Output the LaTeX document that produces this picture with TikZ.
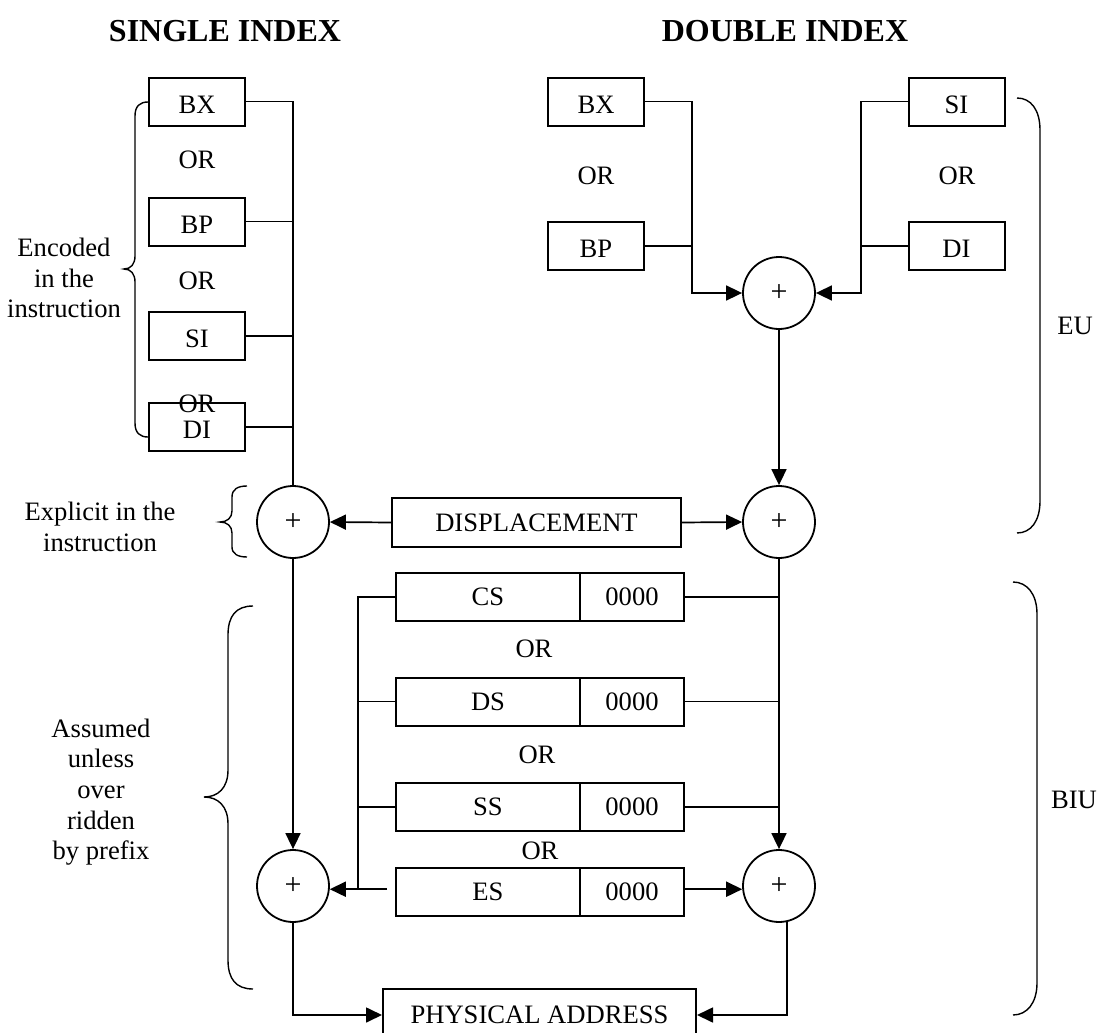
\documentclass[tikz,border=0pt]{standalone}
\usepackage{fontspec}
\setmainfont{Liberation Serif}
\usetikzlibrary{arrows.meta}
\begin{document}
\begin{tikzpicture}[x=0.5pt,y=-0.5pt,
  every node/.style={font=\fontsize{13.3}{15.5}\selectfont},
  wire/.style={line width=0.85pt},
  arr/.style={wire,-{Triangle[length=8pt,width=7.5pt]}},
  curly/.style={line width=0.7pt},
  boxed/.style={draw,line width=1pt,inner sep=0pt,text height=8.7pt,text depth=0pt},
  reg/.style={boxed,minimum width=48pt,minimum height=24pt,text height=11.8pt},
  segbox/.style={boxed,minimum width=92pt,minimum height=24pt},
  valbox/.style={boxed,minimum width=52pt,minimum height=24pt},
  dispbox/.style={boxed,minimum width=144.5pt,minimum height=24.5pt},
  pabox/.style={boxed,minimum width=156.5pt,minimum height=26pt},
  adder/.style={circle,draw,line width=0.9pt,minimum size=36pt,inner sep=0pt,
    font=\fontsize{15}{15}\selectfont},
  hdr/.style={anchor=base,font=\bfseries\fontsize{16}{19}\selectfont},
  txt/.style={anchor=base}]
\useasboundingbox (0,0) rectangle (1104,1033);

% headings
\node[hdr] (hsingle) at (225,41) {SINGLE INDEX};
\node[hdr] (hdouble) at (785,41) {DOUBLE INDEX};

% ---- single index registers
\node[reg] (bxA) at (197,101.5) {BX};
\node[reg] (bpA) at (197,221.5) {BP};
\node[reg] (siA) at (197,336) {SI};
\node[reg] (diA) at (197,427) {DI};
\node[txt] (orA1) at (197,168) {OR};
\node[txt] (orA2) at (197,289) {OR};
\node[txt] (orA3) at (197,412) {OR};

% ---- double index registers
\node[reg] (bxB) at (596,101.5) {BX};
\node[reg] (bpB) at (596,246) {BP};
\node[reg] (siB) at (956.5,101.5) {SI};
\node[reg] (diB) at (956.5,246) {DI};
\node[txt] (orB1) at (596,184) {OR};
\node[txt] (orB2) at (957,184) {OR};

% ---- adders
\node[adder] (add1) at (779,293) {+};
\node[adder] (add3) at (293,522) {+};
\node[adder] (add2) at (779,522) {+};
\node[adder] (add4) at (293,886) {+};
\node[adder] (add5) at (779,886) {+};

\node[dispbox] (disp) at (536.5,522.5) {DISPLACEMENT};

% ---- segment registers
\node[segbox] (cs) at (488,597) {CS};
\node[valbox] (csv) at (632,597) {0000};
\node[segbox] (ds) at (488,701.5) {DS};
\node[valbox] (dsv) at (632,701.5) {0000};
\node[segbox] (ss) at (488,807) {SS};
\node[valbox] (ssv) at (632,807) {0000};
\node[segbox] (es) at (488,892) {ES};
\node[valbox] (esv) at (632,892) {0000};
\node[txt] (orC1) at (534,657) {OR};
\node[txt] (orC2) at (537,763) {OR};
\node[txt] (orC3) at (540,859) {OR};

\node[pabox] (pa) at (539.5,1015) {PHYSICAL ADDRESS};

% ---- single index wiring
\draw[wire] (bxA.east) -- (bxA.east -| add3.north) -- (add3.north);
\draw[wire] (bpA.east) -- (bpA.east -| add3.north);
\draw[wire] (siA.east) -- (siA.east -| add3.north);
\draw[wire] (diA.east) -- (diA.east -| add3.north);

% ---- double index wiring
\coordinate (jl) at (692,293);
\coordinate (jr) at (861,293);
\draw[arr] (bxB.east) -| (jl) -- (add1.west);
\draw[wire] (bpB.east) -- (bpB.east -| jl);
\draw[arr] (siB.west) -| (jr) -- (add1.east);
\draw[wire] (diB.west) -- (diB.west -| jr);
\draw[arr] (add1.south) -- (add2.north);

% ---- displacement
\draw[arr] (disp.west) -- (add3.east);
\draw[arr] (disp.east) -- (add2.west);

% ---- segment wiring
\draw[arr] (add3.south) -- (add4.north);
\draw[arr] (add2.south) -- (add5.north);
\coordinate (lb) at (358,889);
\draw[wire] (cs.west) -| (lb);
\draw[wire] (ds.west) -- (ds.west -| lb);
\draw[wire] (ss.west) -- (ss.west -| lb);
\draw[arr] (es.west |- add4.-5) ++(-8,0) -- (add4.-5);
\draw[wire] (csv.east) -- (csv.east -| add2.south);
\draw[wire] (dsv.east) -- (dsv.east -| add2.south);
\draw[wire] (ssv.east) -- (ssv.east -| add2.south);
\draw[arr] (esv.east |- add5.185) -- (add5.185);

% ---- physical address
\draw[arr] (add4.south) |- (pa.west);
\draw[arr] (add5.-77) |- (pa.east);

% ---- braces and side labels
\draw[curly] (148,102) .. controls (140,102) and (135,106) .. (135,116) -- (135,256)
  .. controls (135,264) and (131,269) .. (124,269)
  .. controls (131,269) and (135,274) .. (135,282) -- (135,423)
  .. controls (135,433) and (140,437) .. (148,437);
\node[txt] (enc1) at (64,256) {Encoded};
\node[txt] (enc2) at (64,287) {in the};
\node[txt] (enc3) at (64,317) {instruction};

\draw[curly] (247,486) .. controls (238,486) and (232,489) .. (232,497) -- (232,511)
  .. controls (232,518) and (227,522) .. (220,522)
  .. controls (227,522) and (232,526) .. (232,533) -- (232,547)
  .. controls (232,554) and (238,557) .. (247,557);
\node[txt] (exp1) at (100,520) {Explicit in the};
\node[txt] (exp2) at (100,551) {instruction};

\draw[curly] (253,606) .. controls (236,606) and (228,616) .. (228,635) -- (228,770)
  .. controls (228,788) and (218,797) .. (204,797)
  .. controls (218,797) and (228,806) .. (228,824) -- (228,960)
  .. controls (228,979) and (236,989) .. (253,989);
\node[txt] (asm1) at (101,737) {Assumed};
\node[txt] (asm2) at (101,767) {unless};
\node[txt] (asm3) at (101,798) {over};
\node[txt] (asm4) at (101,829) {ridden};
\node[txt] (asm5) at (101,859) {by prefix};

\draw[curly] (1017,98) .. controls (1031,98) and (1040,110) .. (1040,130) -- (1040,501)
  .. controls (1040,521) and (1031,533) .. (1017,533);
\node[txt] (eu) at (1075,334) {EU};

\draw[curly] (1013,582) .. controls (1027,582) and (1037,594) .. (1037,614) -- (1037,983)
  .. controls (1037,1003) and (1027,1015) .. (1013,1015);
\node[txt] (biu) at (1074,808) {BIU};
\end{tikzpicture}
\end{document}
